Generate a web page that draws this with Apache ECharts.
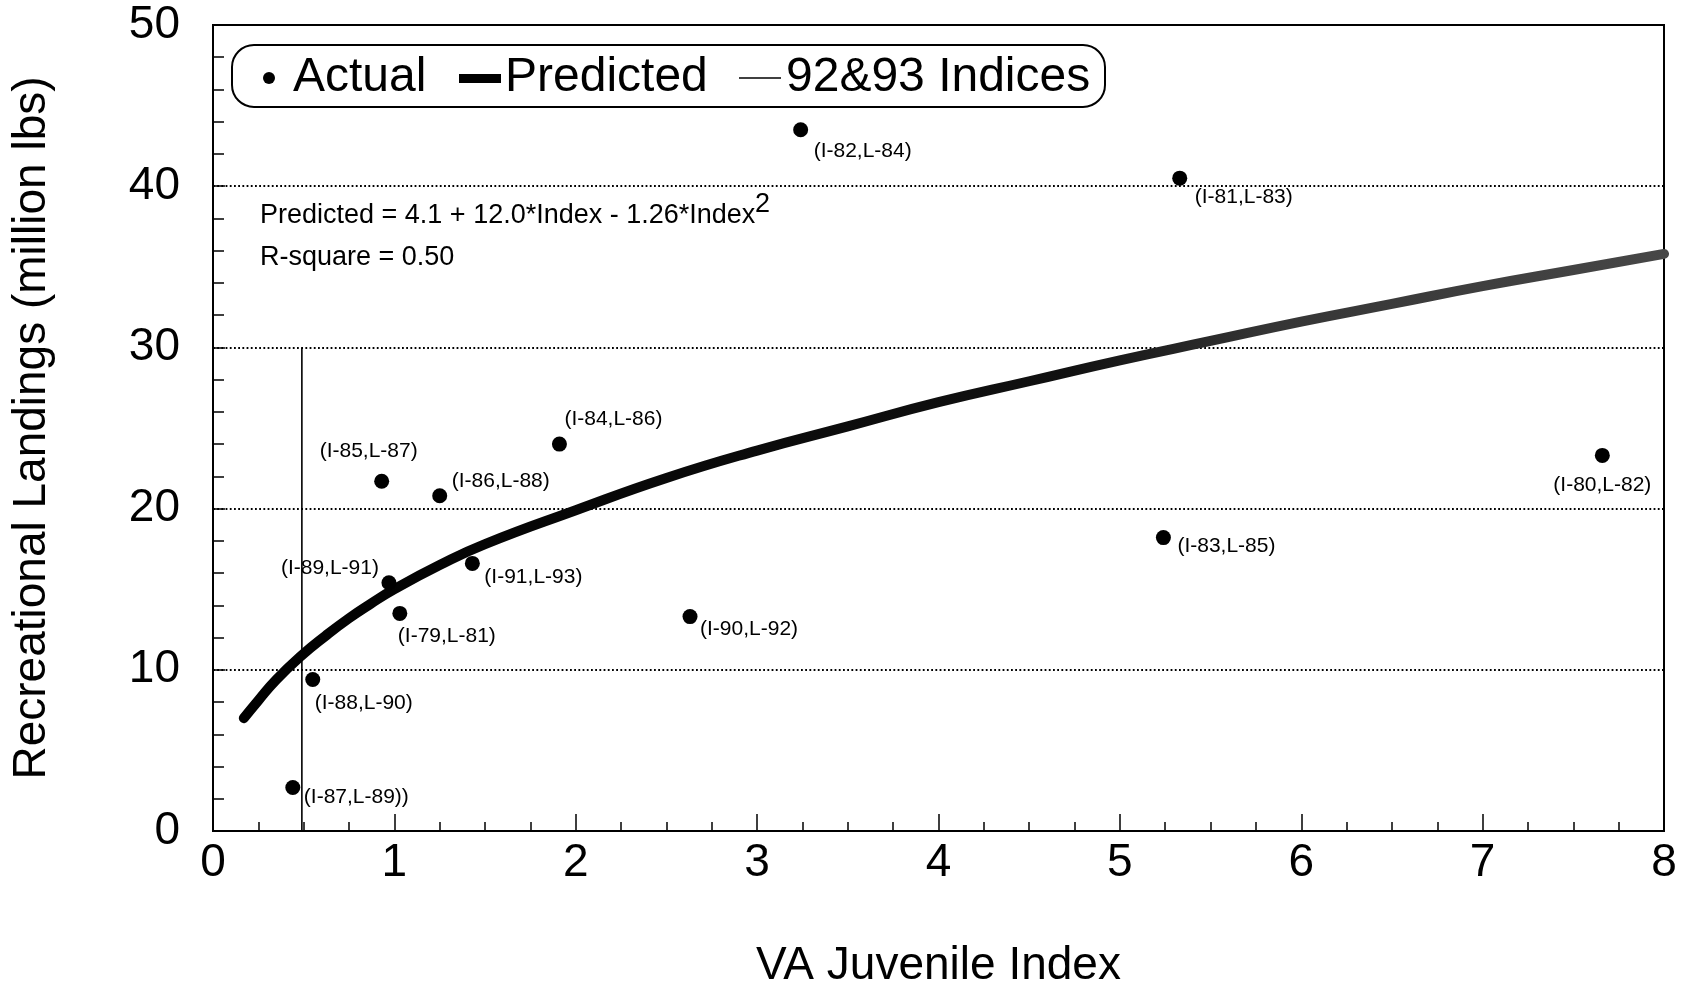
<!DOCTYPE html>
<html>
<head>
<meta charset="utf-8">
<script src="https://cdn.jsdelivr.net/npm/echarts@6/dist/echarts.min.js"></script>
<style>
  html, body { margin: 0; padding: 0; background: #fff; }
  #chart { width: 1685px; height: 986px; }
</style>
</head>
<body>
<div id="chart"></div>
<script>
// Observed (index, landings) pairs, labelled by index year / landings year
const pointLabels = ['(I-82,L-84)', '(I-81,L-83)', '(I-84,L-86)', '(I-85,L-87)', '(I-86,L-88)',
  '(I-80,L-82)', '(I-83,L-85)', '(I-89,L-91)', '(I-91,L-93)', '(I-79,L-81)',
  '(I-90,L-92)', '(I-88,L-90)', '(I-87,L-89))'];
const juvenileIndex = [3.24, 5.33, 1.91, 0.93, 1.25, 7.66, 5.24, 0.97, 1.43, 1.03, 2.63, 0.55, 0.44];
const landings = [43.5, 40.5, 24.0, 21.7, 20.8, 23.3, 18.2, 15.4, 16.6, 13.5, 13.3, 9.4, 2.7];

// Fitted curve, sampled along the index
const curveIndex = [0.17, 0.25, 0.35, 0.49, 0.62, 0.75, 0.87, 1.0, 1.25, 1.5, 2.0, 2.5, 3.0, 3.5, 4.0, 4.5, 5.0, 5.5, 6.0, 6.5, 7.0, 7.5, 8.0];
const curveLandings = [7.0, 8.1, 9.4, 10.9, 12.1, 13.2, 14.1, 15.0, 16.5, 17.8, 19.9, 21.9, 23.6, 25.1, 26.6, 27.9, 29.2, 30.4, 31.6, 32.7, 33.8, 34.8, 35.8];

// 1992 & 1993 index marker
const indexMarkX = [0.49, 0.49];
const indexMarkY = [0, 30];

const xTicks = ['0', '1', '2', '3', '4', '5', '6', '7', '8'];
const yTicks = ['0', '10', '20', '30', '40', '50'];

// label placement next to each dot: [align, dx, dy]
const labelSpots = {
  '(I-82,L-84)': ['left', 13, 21],
  '(I-81,L-83)': ['left', 15, 19],
  '(I-84,L-86)': ['left', 5, -25],
  '(I-85,L-87)': ['center', -13, -30],
  '(I-86,L-88)': ['left', 12, -15],
  '(I-80,L-82)': ['center', 0, 30],
  '(I-83,L-85)': ['left', 14, 9],
  '(I-89,L-91)': ['right', -10, -15],
  '(I-91,L-93)': ['left', 12, 14],
  '(I-79,L-81)': ['left', -2, 23],
  '(I-90,L-92)': ['left', 10, 13],
  '(I-88,L-90)': ['left', 2, 24],
  '(I-87,L-89))': ['left', 11, 10]
};

const FONT = '"Liberation Sans", Arial, Helvetica, sans-serif';

const scatterData = juvenileIndex.map((x, i) => {
  const spot = labelSpots[pointLabels[i]];
  return {
    value: [x, landings[i]],
    label: {
      show: true,
      formatter: pointLabels[i],
      position: 'inside',
      align: spot[0],
      verticalAlign: 'middle',
      offset: [spot[1], spot[2]],
      fontSize: 21,
      fontFamily: FONT,
      color: '#000'
    }
  };
});
const curveData = curveIndex.map((x, i) => [x, curveLandings[i]]);
const markData = indexMarkX.map((x, i) => [x, indexMarkY[i]]);

const chart = echarts.init(document.getElementById('chart'), null, { renderer: 'canvas' });

chart.setOption({
  backgroundColor: '#fff',
  animation: false,
  textStyle: { fontFamily: FONT, color: '#000' },
  grid: {
    left: 213, right: 21, top: 25, bottom: 155,
    outerBoundsMode: 'none',
    containLabel: false,
    show: true, borderColor: '#000', borderWidth: 2
  },
  xAxis: {
    type: 'value', min: 0, max: 8, interval: 1,
    name: 'VA Juvenile Index',
    nameLocation: 'middle', nameGap: 112,
    nameTextStyle: { fontSize: 46, fontFamily: FONT, color: '#000' },
    axisLine: { show: true, lineStyle: { color: '#000', width: 2 } },
    axisTick: { show: true, inside: true, length: 17, lineStyle: { color: '#000', width: 1.5 } },
    minorTick: { show: true, splitNumber: 4, length: 9, lineStyle: { color: '#000', width: 1.5 } },
    splitLine: { show: false },
    axisLabel: {
      fontSize: 46, fontFamily: FONT, color: '#000', margin: 9,
      formatter: v => xTicks[Math.round(v)]
    }
  },
  yAxis: {
    type: 'value', min: 0, max: 50, interval: 10,
    name: 'Recreational Landings (million lbs)',
    nameLocation: 'middle', nameGap: 158,
    nameTextStyle: { fontSize: 46, fontFamily: FONT, color: '#000' },
    axisLine: { show: true, lineStyle: { color: '#000', width: 2 } },
    axisTick: { show: true, inside: true, length: 12, lineStyle: { color: '#000', width: 1.5 } },
    minorTick: { show: true, splitNumber: 5, length: 11, lineStyle: { color: '#000', width: 1.5 } },
    splitLine: { show: true, lineStyle: { color: '#000', width: 1.8, type: [1.8, 2.4] } },
    axisLabel: {
      fontSize: 46, fontFamily: FONT, color: '#000', margin: 33,
      formatter: v => yTicks[Math.round(v / 10)]
    }
  },
  series: [
    {
      name: '92&93 Indices',
      type: 'line',
      data: markData,
      symbol: 'none',
      lineStyle: { color: '#000', width: 1.6 },
      z: 3
    },
    {
      name: 'Predicted',
      type: 'line',
      data: curveData,
      smooth: true,
      symbol: 'none',
      lineStyle: {
        width: 10,
        cap: 'round',
        color: new echarts.graphic.LinearGradient(0, 0, 1, 0, [
          { offset: 0, color: '#000' },
          { offset: 0.58, color: '#111' },
          { offset: 0.72, color: '#353535' },
          { offset: 1, color: '#474747' }
        ])
      },
      z: 4
    },
    {
      name: 'Actual',
      type: 'scatter',
      data: scatterData,
      symbol: 'circle',
      symbolSize: 15,
      itemStyle: { color: '#000', opacity: 1 },
      z: 5
    }
  ],
  graphic: [
    // legend frame
    { type: 'rect', shape: { x: 232, y: 45, width: 873, height: 62, r: 22 },
      style: { fill: '#fff', stroke: '#000', lineWidth: 2 }, z: 10 },
    { type: 'circle', shape: { cx: 269, cy: 78, r: 6 }, style: { fill: '#000' }, z: 11 },
    { type: 'text', x: 293, y: 78, style: { text: 'Actual', font: '48px ' + FONT, fill: '#000', verticalAlign: 'middle' }, z: 11 },
    { type: 'rect', shape: { x: 459, y: 74, width: 42, height: 9 }, style: { fill: '#000' }, z: 11 },
    { type: 'text', x: 505, y: 78, style: { text: 'Predicted', font: '48px ' + FONT, fill: '#000', verticalAlign: 'middle' }, z: 11 },
    { type: 'line', shape: { x1: 739, y1: 78, x2: 781, y2: 78 }, style: { stroke: '#000', lineWidth: 1.6 }, z: 11 },
    { type: 'text', x: 786, y: 78, style: { text: '92&93 Indices', font: '48px ' + FONT, fill: '#000', verticalAlign: 'middle' }, z: 11 },
    // fitted equation
    { type: 'text', x: 260, y: 216, style: { text: 'Predicted = 4.1 + 12.0*Index - 1.26*Index', font: '27px ' + FONT, fill: '#000', verticalAlign: 'middle' }, z: 11 },
    { type: 'text', x: 755, y: 205, style: { text: '2', font: '27px ' + FONT, fill: '#000', verticalAlign: 'middle' }, z: 11 },
    { type: 'text', x: 260, y: 258, style: { text: 'R-square = 0.50', font: '27px ' + FONT, fill: '#000', verticalAlign: 'middle' }, z: 11 }
  ]
});
</script>
</body>
</html>
